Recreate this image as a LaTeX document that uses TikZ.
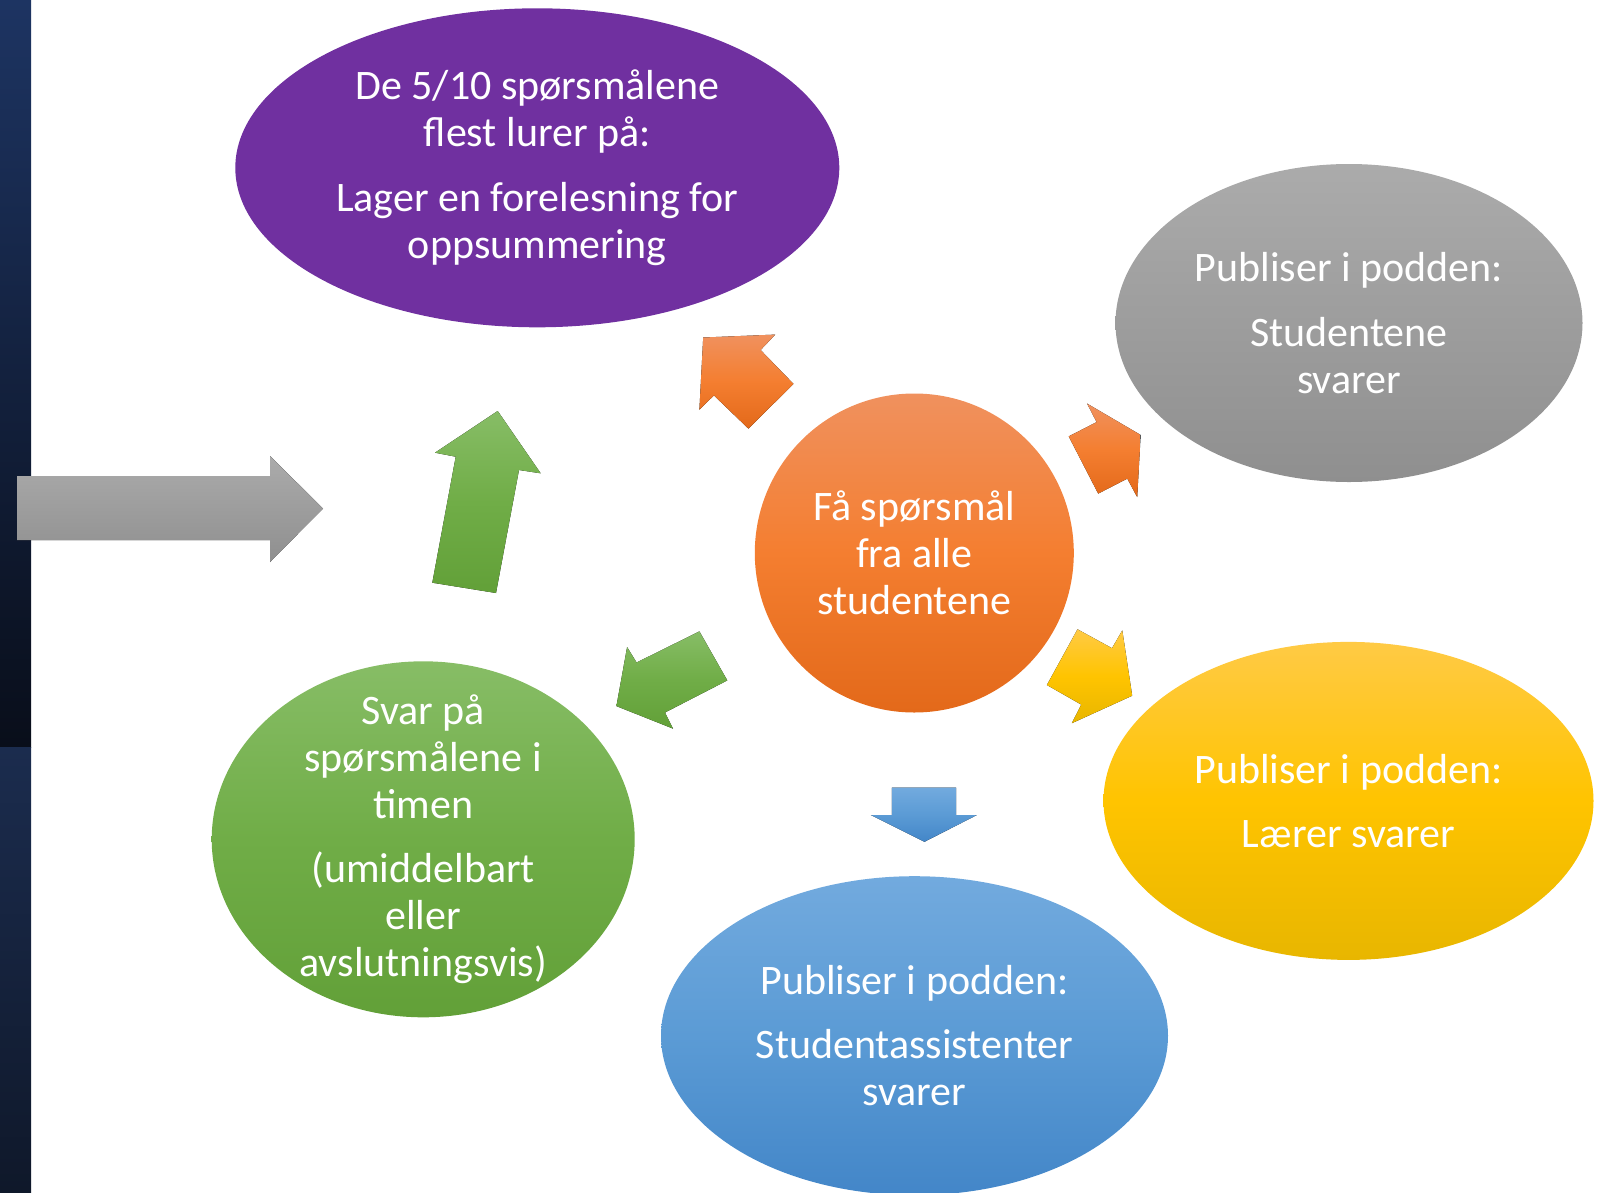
\documentclass[tikz,border=0pt]{standalone}
\usepackage{fontspec}
\setmainfont{Carlito}
\usetikzlibrary{shapes.geometric}
\definecolor{purp}{HTML}{7030A0}
\definecolor{grayT}{HTML}{ABABAB}
\definecolor{grayB}{HTML}{8F8F8F}
\definecolor{orT}{HTML}{F0915E}
\definecolor{orM}{HTML}{F47E30}
\definecolor{orB}{HTML}{E3691A}
\definecolor{yeT}{HTML}{FFCA45}
\definecolor{yeM}{HTML}{FFC400}
\definecolor{yeB}{HTML}{E8B600}
\definecolor{blT}{HTML}{72AADE}
\definecolor{blM}{HTML}{5B9BD5}
\definecolor{blB}{HTML}{4386C8}
\definecolor{grT}{HTML}{87BD66}
\definecolor{grM}{HTML}{70AD47}
\definecolor{grB}{HTML}{62A038}
\definecolor{navA}{HTML}{1D3462}
\definecolor{navB}{HTML}{090E1A}
\definecolor{navC}{HTML}{1B2C4E}
\definecolor{navD}{HTML}{0F182A}
\tikzset{
  blob/.style={ellipse, inner sep=0pt, draw=none},
  lbl/.style={text=white, align=center, font=\fontsize{42}{47}\selectfont, inner sep=0pt},
  shgray/.style={top color=grayT, bottom color=grayB},
  shorange/.style={top color=orT, bottom color=orB, middle color=orM},
  shyellow/.style={top color=yeT, bottom color=yeB, middle color=yeM},
  shblue/.style={top color=blT, bottom color=blB, middle color=blM},
  shgreen/.style={top color=grT, bottom color=grB, middle color=grM},
}
\begin{document}
\begin{tikzpicture}[x=1pt,y=-1pt]
\useasboundingbox (0,0) rectangle (1604,1192);
% left dark strip
\fill[top color=navA, bottom color=navB] (0,0) rectangle (31,747);
\fill[top color=navC, bottom color=navD] (0,747) rectangle (31,1192);
% grey block arrow on the left
\fill[top color=grayT, bottom color=grayB]
  (17,476) -- (270,476) -- (270,456) -- (323,508.5) -- (270,562) -- (270,540) -- (17,540) -- cycle;
% ellipses
\node[blob, fill=purp, minimum width=604, minimum height=319] (purple) at (537.3,167.8) {};
\node[blob, shgray, minimum width=467, minimum height=318] (grey) at (1349,323) {};
\node[circle, inner sep=0pt, shorange, minimum size=319] (centre) at (914.3,553) {};
\node[blob, shyellow, minimum width=490, minimum height=318] (yellow) at (1348.5,800.9) {};
\node[blob, shblue, minimum width=507, minimum height=319] (blue) at (914.5,1035.7) {};
\node[blob, shgreen, minimum width=423, minimum height=356] (green) at (423.2,839.3) {};
% texts
\node[lbl] (tpurple) at (purple.center) {De 5/10 spørsmålene\\flest lurer på:\\[17.6pt]Lager en forelesning for\\oppsummering};
\node[lbl] (tgrey) at (grey.center) {Publiser i podden:\\[17.6pt]Studentene\\svarer};
\node[lbl] (tcentre) at (centre.center) {Få spørsmål\\fra alle\\studentene};
\node[lbl] (tyellow) at (yellow.center) {Publiser i podden:\\[17.6pt]Lærer svarer};
\node[lbl] (tblue) at (blue.center) {Publiser i podden:\\[17.6pt]Studentassistenter\\svarer};
\node[lbl] (tgreen) at (green.center) {Svar på\\spørsmålene i\\timen\\[17.6pt](umiddelbart\\eller\\avslutningsvis)};
% small block arrows around the centre
\fill[shorange] (703.2,337.5) -- (775.2,334.6) -- (760.6,350) -- (793.5,383.9) -- (748.4,428.6) -- (713.9,395.4) -- (699.4,409.6) -- cycle;
\fill[shorange] (1087.1,403.6) -- (1140.7,435) -- (1137.2,497.1) -- (1127.3,478.6) -- (1098.2,493.6) -- (1068.7,436.4) -- (1096.6,422.1) -- cycle;
\fill[shyellow] (1077.5,629.3) -- (1112,648.2) -- (1122.3,630.4) -- (1132.2,695.7) -- (1071.8,723.2) -- (1081.3,704.6) -- (1046.9,685) -- cycle;
\fill[shgreen] (699.4,631.4) -- (727.3,680.4) -- (665,712.5) -- (673,728.6) -- (616.4,706.1) -- (627.1,647.1) -- (636.6,662.5) -- cycle;
\fill[shblue] (891.9,787.5) -- (956.2,787.5) -- (956.2,815) -- (976.9,815) -- (924.4,841.8) -- (870.9,815) -- (891.9,815) -- cycle;
% big green arrow up
\fill[shgreen] (497.7,411) -- (540.7,473.3) -- (519,470) -- (496,593) -- (432.3,582.7) -- (455.7,456.7) -- (435,452.7) -- cycle;
\end{tikzpicture}
\end{document}
